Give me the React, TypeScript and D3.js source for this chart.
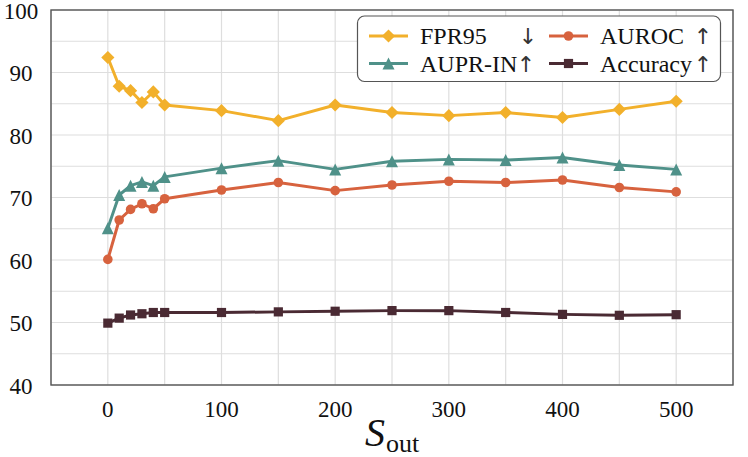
import { useEffect, useRef } from 'react'
import * as d3 from 'd3'

// x positions (S_out) and metric values
const sOut = [0, 10, 20, 30, 40, 50, 100, 150, 200, 250, 300, 350, 400, 450, 500]
const fpr95 = [92.4, 87.8, 87.1, 85.2, 86.9, 84.8, 83.9, 82.3, 84.8, 83.6, 83.1, 83.6, 82.8, 84.1, 85.4]
const auprIn = [65.1, 70.4, 71.9, 72.5, 71.9, 73.3, 74.7, 75.9, 74.5, 75.8, 76.1, 76.0, 76.4, 75.2, 74.5]
const auroc = [60.1, 66.4, 68.1, 69.0, 68.2, 69.8, 71.2, 72.4, 71.1, 72.0, 72.6, 72.4, 72.8, 71.6, 70.9]
const accuracy = [49.9, 50.7, 51.2, 51.4, 51.6, 51.6, 51.6, 51.7, 51.8, 51.9, 51.9, 51.6, 51.3, 51.15, 51.25]

const xTicks = [0, 100, 200, 300, 400, 500]
const yTicks = [40, 50, 60, 70, 80, 90, 100]

type Marker = 'diamond' | 'circle' | 'triangle' | 'square'
interface Series { name: string; arrow: string; values: number[]; color: string; marker: Marker }

const series: Series[] = [
  { name: 'FPR95', arrow: '↓', values: fpr95, color: '#F2B02B', marker: 'diamond' },
  { name: 'AUPR-IN', arrow: '↑', values: auprIn, color: '#4F9189', marker: 'triangle' },
  { name: 'AUROC', arrow: '↑', values: auroc, color: '#D7623E', marker: 'circle' },
  { name: 'Accuracy', arrow: '↑', values: accuracy, color: '#4A2A33', marker: 'square' },
]

function markerPath(m: Marker): string {
  if (m === 'diamond') { const r = 6.6; return `M0,${-r}L${r},0L0,${r}L${-r},0Z` }
  if (m === 'triangle') { const r = 6; return `M0,${-r}L${r},${r}L${-r},${r}Z` }
  if (m === 'square') { const r = 4.6; return `M${-r},${-r}H${r}V${r}H${-r}Z` }
  return d3.symbol(d3.symbolCircle, Math.PI * 4.8 * 4.8)()!
}

export default function App() {
  const ref = useRef<SVGSVGElement>(null)

  useEffect(() => {
    if (!ref.current) return
    const el = ref.current
    const width = 748
    const height = 457
    const L = 51, R = 733, T = 10, B = 385
    const serif = 'Liberation Serif'

    d3.select(el).selectAll('*').remove()
    const svg = d3.select(el).attr('width', width).attr('height', height)

    const x = d3.scaleLinear().domain([-50, 550]).range([L, R])
    const y = d3.scaleLinear().domain([40, 100]).range([B, T])

    svg.append('rect').attr('width', width).attr('height', height).attr('fill', '#fff')

    // grid
    const grid = svg.append('g').attr('stroke', '#dedede').attr('stroke-width', 1.2)
    grid.selectAll('line.v').data(d3.range(-50, 551, 50)).join('line')
      .attr('x1', d => x(d)).attr('x2', d => x(d)).attr('y1', T).attr('y2', B)
    grid.selectAll('line.h').data(d3.range(40, 101, 5)).join('line')
      .attr('x1', L).attr('x2', R).attr('y1', d => y(d)).attr('y2', d => y(d))

    // frame
    svg.append('rect').attr('x', L).attr('y', T).attr('width', R - L).attr('height', B - T)
      .attr('fill', 'none').attr('stroke', '#555').attr('stroke-width', 1.4)

    // tick labels
    svg.append('g').selectAll('text').data(xTicks).join('text')
      .attr('x', d => x(d)).attr('y', 417)
      .attr('text-anchor', 'middle').style('font-family', serif).attr('font-size', 23).attr('fill', '#111')
      .text(d => d)
    svg.append('g').selectAll('text').data(yTicks).join('text')
      .attr('x', 21).attr('y', d => y(d) + 8.5)
      .attr('text-anchor', 'middle').style('font-family', serif).attr('font-size', 23).attr('fill', '#111')
      .text(d => d)

    // x label  S_out
    const xl = svg.append('text').attr('x', (L + R) / 2).attr('y', 446)
      .attr('text-anchor', 'middle').style('font-family', serif).attr('fill', '#111')
    xl.append('tspan').attr('font-size', 40).attr('font-style', 'italic').text('S')
    xl.append('tspan').attr('font-size', 26).attr('dy', 6).attr('dx', 1).text('out')

    // lines + markers
    const line = d3.line<number>().x((_, i) => x(sOut[i])).y(d => y(d))
    series.forEach(s => {
      svg.append('path').datum(s.values)
        .attr('fill', 'none').attr('stroke', s.color).attr('stroke-width', 3)
        .attr('stroke-linejoin', 'round').attr('d', line)
      svg.append('g').selectAll('path').data(s.values).join('path')
        .attr('transform', (d, i) => `translate(${x(sOut[i])},${y(d)})`)
        .attr('d', markerPath(s.marker)).attr('fill', s.color)
    })

    // legend
    const lg = svg.append('g')
    lg.append('rect').attr('x', 357.5).attr('y', 16).attr('width', 363).attr('height', 65.5)
      .attr('rx', 7).attr('fill', '#fff').attr('stroke', '#555').attr('stroke-width', 1.2)
    const cols = [369, 549]
    const rows = [36, 63.5]
    const arrowX = [[528, 703], [526, 703]]
    series.forEach((s, i) => {
      const c = Math.floor(i / 2), r = i % 2
      const g = lg.append('g')
      g.append('line').attr('x1', cols[c]).attr('x2', cols[c] + 39).attr('y1', rows[r]).attr('y2', rows[r])
        .attr('stroke', s.color).attr('stroke-width', 3)
      g.append('path').attr('transform', `translate(${cols[c] + 19.5},${rows[r]})`)
        .attr('d', markerPath(s.marker)).attr('fill', s.color)
      g.append('text').attr('x', cols[c] + 51).attr('y', rows[r] + 8)
        .style('font-family', serif).attr('font-size', 24).attr('fill', '#111').text(s.name)
      g.append('text').attr('x', arrowX[r][c]).attr('y', rows[r] + 8)
        .attr('text-anchor', 'middle').style('font-family', 'DejaVu Sans')
        .attr('font-size', 22).attr('fill', '#333').text(s.arrow)
    })
  }, [])

  return <svg ref={ref} style={{ position: 'absolute', left: 0, top: 0, display: 'block' }} />
}
